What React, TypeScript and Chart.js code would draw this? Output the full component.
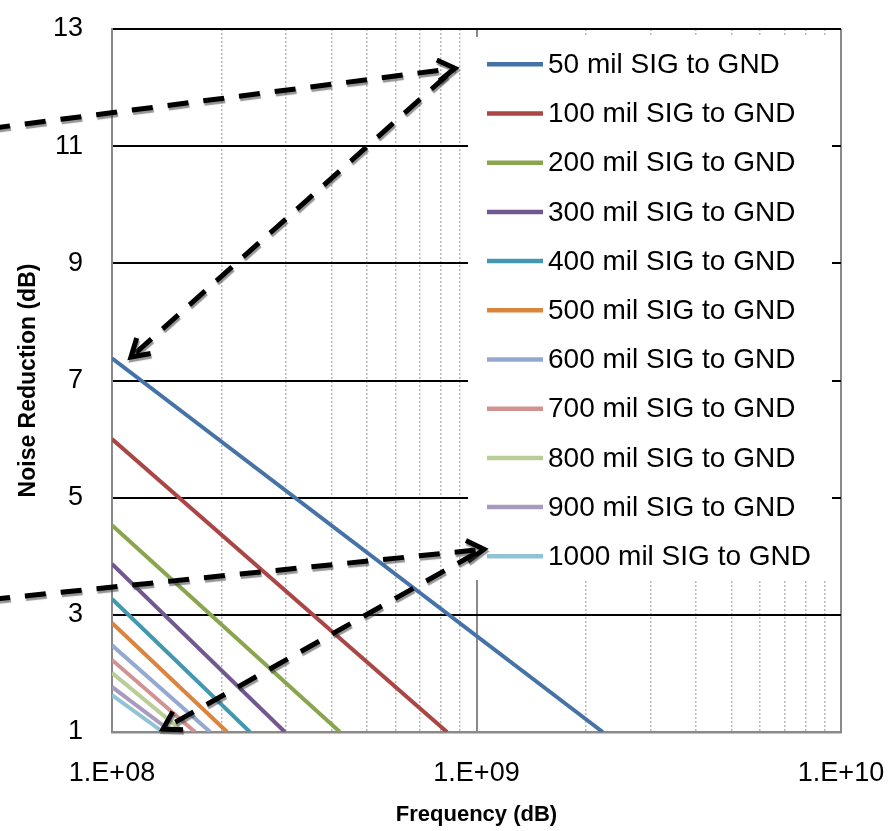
import React, { useEffect, useRef } from "react";
import { Chart, registerables } from "chart.js";

Chart.register(...registerables);

// ---- data ----
const seriesLabels = [
  "50 mil SIG to GND",
  "100 mil SIG to GND",
  "200 mil SIG to GND",
  "300 mil SIG to GND",
  "400 mil SIG to GND",
  "500 mil SIG to GND",
  "600 mil SIG to GND",
  "700 mil SIG to GND",
  "800 mil SIG to GND",
  "900 mil SIG to GND",
  "1000 mil SIG to GND",
];
const seriesColors = [
  "#4572A7",
  "#AA4643",
  "#89A54E",
  "#71588F",
  "#4198AF",
  "#DB843D",
  "#93A9CF",
  "#D19392",
  "#B9CD96",
  "#A99BBD",
  "#91C3D5",
];
const startFreqHz = 1e8;
const startDb = [7.38, 6.0, 4.53, 3.87, 3.27, 2.86, 2.48, 2.23, 2.01, 1.77, 1.63];
const endFreqHz = [2.22e9, 8.3e8, 4.22e8, 2.98e8, 2.39e8, 2.07e8, 1.86e8, 1.69e8, 1.57e8, 1.46e8, 1.38e8];
const endDb = 1;

// dashed annotation arrows (data coordinates)
const arrowFromFreq = [4.6e7, 8.3e8, 4.6e7, 9.97e8];
const arrowFromDb = [11.3, 12.21, 3.26, 4.055];
const arrowToFreq = [8.73e8, 1.127e8, 1.048e9, 1.38e8];
const arrowToDb = [12.33, 7.4, 4.12, 1.05];

const xMin = 1e8;
const xMax = 1e10;
const yMin = 1;
const yMax = 13;
const yStep = 2;

const xTitle = "Frequency (dB)";
const yTitle = "Noise Reduction (dB)";

const FONT = "'Liberation Sans', Arial, sans-serif";

const legendPlugin = {
  id: "insideLegend",
  beforeDatasetsDraw(chart: any) {
    const { ctx, chartArea } = chart;
    const { left, top } = chartArea;
    ctx.save();
    ctx.fillStyle = "#ffffff";
    ctx.fillRect(left + 356, top + 8, 364, 543);
    ctx.font = `28px ${FONT}`;
    ctx.textBaseline = "middle";
    ctx.textAlign = "left";
    chart.data.datasets.forEach((ds: any, i: number) => {
      const y = top + 35.3 + i * 49.2;
      ctx.strokeStyle = ds.borderColor;
      ctx.lineWidth = 4.5;
      ctx.lineCap = "butt";
      ctx.beginPath();
      ctx.moveTo(left + 375, y);
      ctx.lineTo(left + 431, y);
      ctx.stroke();
      ctx.fillStyle = "#000";
      ctx.fillText(ds.label, left + 436, y + 1);
    });
    ctx.restore();
  },
};

const arrowPlugin = {
  id: "dashedArrows",
  afterDatasetsDraw(chart: any) {
    const { ctx } = chart;
    const xs = chart.scales.x;
    const ys = chart.scales.y;
    ctx.save();
    for (let i = 0; i < arrowFromFreq.length; i++) {
      const x1 = xs.getPixelForValue(arrowFromFreq[i]);
      const y1 = ys.getPixelForValue(arrowFromDb[i]);
      const x2 = xs.getPixelForValue(arrowToFreq[i]);
      const y2 = ys.getPixelForValue(arrowToDb[i]);
      ctx.shadowColor = "rgba(60,60,60,0.55)";
      ctx.shadowOffsetX = 1;
      ctx.shadowOffsetY = 2.5;
      ctx.shadowBlur = 1;
      ctx.strokeStyle = "#000";
      ctx.lineWidth = 5;
      ctx.lineCap = "butt";
      ctx.setLineDash([21, 15]);
      ctx.beginPath();
      ctx.moveTo(x1, y1);
      ctx.lineTo(x2, y2);
      ctx.stroke();
      ctx.setLineDash([]);
      const ang = Math.atan2(y2 - y1, x2 - x1);
      const len = 20;
      const spread = 0.55;
      ctx.beginPath();
      ctx.moveTo(x2 - len * Math.cos(ang - spread), y2 - len * Math.sin(ang - spread));
      ctx.lineTo(x2, y2);
      ctx.lineTo(x2 - len * Math.cos(ang + spread), y2 - len * Math.sin(ang + spread));
      ctx.lineJoin = "miter";
      ctx.stroke();
    }
    ctx.restore();
  },
};

export default function App() {
  const ref = useRef<HTMLCanvasElement | null>(null);

  useEffect(() => {
    if (!ref.current) return;
    const datasets = seriesLabels.map((label, i) => ({
      label,
      data: [
        { x: startFreqHz, y: startDb[i] },
        { x: endFreqHz[i], y: endDb },
      ],
      borderColor: seriesColors[i],
      backgroundColor: seriesColors[i],
      borderWidth: 4,
      pointRadius: 0,
      tension: 0,
      fill: false,
    }));

    const chart = new Chart(ref.current, {
      type: "line",
      data: { datasets },
      plugins: [legendPlugin, arrowPlugin],
      options: {
        responsive: false,
        maintainAspectRatio: false,
        devicePixelRatio: 1,
        animation: false,
        layout: { padding: { left: 0, top: 29, right: 53, bottom: 0 } },
        plugins: {
          legend: { display: false },
          tooltip: { enabled: false },
        },
        scales: {
          x: {
            type: "logarithmic",
            min: xMin,
            max: xMax,
            afterBuildTicks: (scale: any) => {
              scale.ticks = scale.ticks.filter((t: any) => {
                const m = t.value / Math.pow(10, Math.floor(Math.log10(t.value) + 1e-9));
                return Math.abs(m - Math.round(m)) < 1e-6;
              });
            },
            afterFit: (scale: any) => {
              scale.height = 99;
              scale.paddingLeft = 0;
              scale.paddingRight = 0;
            },
            ticks: {
              autoSkip: false,
              maxRotation: 0,
              padding: 25,
              color: "#000",
              font: { family: FONT, size: 27 },
              callback: (value: any) => {
                const v = Number(value);
                const e = Math.log10(v);
                if (Math.abs(e - Math.round(e)) > 1e-9) return "";
                return "1.E+" + String(Math.round(e)).padStart(2, "0");
              },
            },
            grid: {
              drawTicks: false,
              color: (c: any) => (c.tick && c.tick.major ? "#8a8a8a" : "#b8b8b8"),
              lineWidth: (c: any) => (c.tick && c.tick.major ? 2 : 1.5),
            },
            border: {
              display: true,
              color: "#8a8a8a",
              width: 2.5,
              dash: (c: any) => (c.tick && !c.tick.major ? [2, 2] : []),
            },
            title: {
              display: true,
              text: xTitle,
              color: "#000",
              font: { family: FONT, size: 22, weight: "bold" },
              padding: { top: 0, bottom: 3 },
            },
          },
          y: {
            type: "linear",
            min: yMin,
            max: yMax,
            afterFit: (scale: any) => {
              scale.width = 112;
              scale.paddingTop = 0;
              scale.paddingBottom = 0;
            },
            ticks: {
              stepSize: yStep,
              padding: 29,
              color: "#000",
              font: { family: FONT, size: 27 },
            },
            grid: {
              drawTicks: false,
              color: (c: any) => (c.tick && c.tick.value === yMin ? "#8a8a8a" : "#000"),
              lineWidth: 2,
            },
            border: { display: true, color: "#8a8a8a", width: 2 },
            title: {
              display: true,
              text: yTitle,
              color: "#000",
              font: { family: FONT, size: 23, weight: "bold" },
              padding: { top: 15, bottom: 0 },
            },
          },
        },
      } as any,
    });
    return () => chart.destroy();
  }, []);

  return (
    <div style={{ position: "fixed", left: 0, top: 0, width: 894, height: 831, background: "#fff" }}>
      <canvas ref={ref} width={894} height={831} style={{ display: "block" }} />
    </div>
  );
}
